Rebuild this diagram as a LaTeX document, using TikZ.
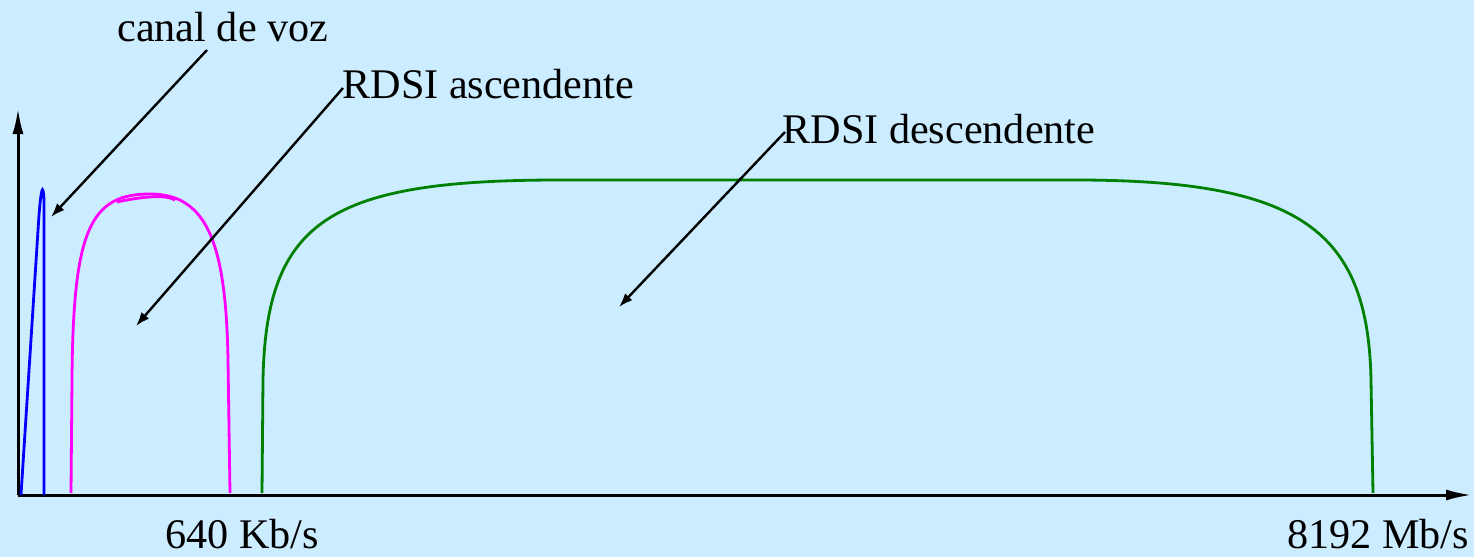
\documentclass[tikz,border=0pt]{standalone}
\usepackage{fontspec}
\setmainfont{Liberation Serif}
\newfontfamily\captionserif{Liberation Serif}
\usetikzlibrary{arrows.meta}
\definecolor{bg}{RGB}{204,236,255}
\definecolor{vozblue}{RGB}{0,0,255}
\definecolor{upmag}{RGB}{255,0,255}
\definecolor{downgreen}{RGB}{0,128,0}
\tikzset{
  axis/.style={line width=1.5pt,-{Latex[length=13pt,width=5.5pt]}},
  leader/.style={line width=1.2pt,-{Latex[length=7pt,width=5pt]}},
  spectrum/.style={line width=1.4pt},
  bandtext/.style={font=\captionserif\fontsize{21.1}{24}\selectfont,inner sep=0pt,anchor=base west},
}
\begin{document}
\begin{tikzpicture}[x=0.5pt,y=-0.5pt]
  \fill[bg] (0,0) rectangle (1474,557);
  \useasboundingbox (0,0) rectangle (1474,557);

  % axes
  \coordinate (o) at (18,495);
  \coordinate (ytip) at (18,108);
  \coordinate (xtip) at (1472,495);
  \draw[axis] (o) -- (ytip);
  \draw[axis] (o) -- (xtip);

  % voice channel
  \draw[spectrum,vozblue] (21,495) -- (39,215)
    .. controls (41,190) and (43,181) .. (44,200) -- (44,495);

  % ISDN upstream band
  \draw[spectrum,upmag] (71,493) -- (72,380)
    .. controls (73,230) and (90,194) .. (150,194)
    .. controls (208,194) and (226,245) .. (228,360) -- (230,493);
  \draw[spectrum,upmag] (117,202) .. controls (140,197) and (165,194) .. (175,200);

  % ISDN downstream band
  \draw[spectrum,downgreen] (262,493) -- (263,380)
    .. controls (266,220) and (330,180) .. (560,180) -- (1075,180)
    .. controls (1300,180) and (1368,230) .. (1371,380) -- (1373,493);

  % labels
  \node[bandtext] (voz) at (117,41) {canal de voz};
  \node[bandtext] (asc) at (342,98) {RDSI ascendente};
  \node[bandtext] (desc) at (782,143) {RDSI descendente};
  \node[bandtext] (f1) at (165,548) {640 Kb/s};
  \node[bandtext] (f2) at (1287,548) {8192 Mb/s};

  % leader lines
  \coordinate (vozs) at (207,50);
  \coordinate (voze) at (51,217);
  \coordinate (ascs) at (343,88);
  \coordinate (asce) at (136,326);
  \coordinate (descs) at (785,132);
  \coordinate (desce) at (619,307);
  \draw[leader] (vozs) -- (voze);
  \draw[leader] (ascs) -- (asce);
  \draw[leader] (descs) -- (desce);
\end{tikzpicture}
\end{document}
